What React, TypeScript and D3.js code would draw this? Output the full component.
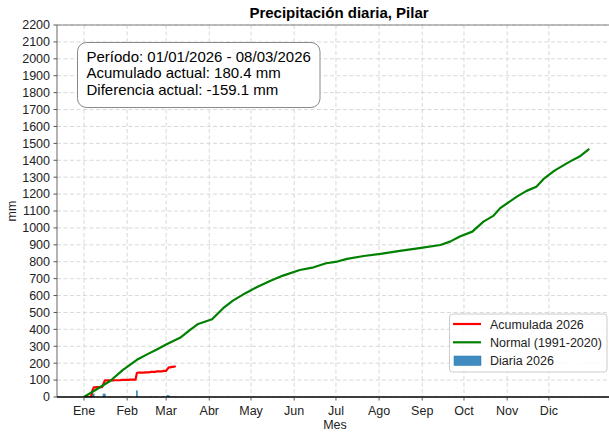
import React from "react";
import * as d3 from "d3";

const monthDays = [0, 31, 59, 90, 120, 151, 181, 212, 243, 273, 304, 334];
const monthLabels = ["Ene", "Feb", "Mar", "Abr", "May", "Jun", "Jul", "Ago", "Sep", "Oct", "Nov", "Dic"];
const yTicks = d3.range(0, 2201, 100);

// Daily precipitation 2026 (day of year index from Jan 1 = 0, mm)
const rainDays = [6, 7, 9, 14, 15, 22, 27, 33, 38, 39, 44, 48, 52, 57, 60, 61, 63, 65];
const rainMm = [38, 19, 1.5, 20, 19.5, 1.0, 2.0, 1.5, 39, 3, 1.5, 2.5, 2.5, 3, 12, 9.5, 2.5, 2.4];
const lastDay = 66; // 08/03/2026

// Normal cumulative (1991-2020)
const normalDays = [0, 10, 19, 28, 38, 46, 52, 59, 66, 69, 76, 82, 92, 100, 107, 116, 124, 134, 143, 155, 165, 174, 182, 189, 201, 213, 227, 241, 256, 263, 270, 279, 287, 294, 299, 311, 318, 325, 330, 338, 349, 356, 363];
const normalMm = [0, 50, 96, 160, 220, 255, 280, 310, 338, 350, 396, 432, 460, 525, 570, 614, 649, 688, 718, 751, 767, 791, 801, 817, 834, 846, 864, 880, 899, 919, 949, 978, 1037, 1071, 1117, 1185, 1219, 1244, 1288, 1339, 1392, 1422, 1467];

const infoLines = [
  "Período: 01/01/2026 - 08/03/2026",
  "Acumulado actual: 180.4 mm",
  "Diferencia actual: -159.1 mm",
];
const legendLabels = ["Acumulada 2026", "Normal (1991-2020)", "Diaria 2026"];

const FONT = "'Liberation Sans', Arial, Helvetica, sans-serif";

export default function App() {
  const W = 609, H = 432;
  const left = 57, right = 621, top = 25, bottom = 397;
  const x = d3.scaleLinear().domain([-19.4, 385.8]).range([left, right]);
  const y = d3.scaleLinear().domain([0, 2200]).range([bottom, top]);

  const daily = d3.range(0, lastDay + 1).map((d) => {
    const i = rainDays.indexOf(d);
    return i >= 0 ? rainMm[i] : 0;
  });
  const cum = Array.from(d3.cumsum(daily));
  const cumPts: [number, number][] = cum.map((v, i) => [i, v]);
  const normPts: [number, number][] = normalDays.map((d, i) => [d, normalMm[i]]);

  const line = d3.line<[number, number]>().x((d) => x(d[0])).y((d) => y(d[1]));
  const barW = x(1.2) - x(0);

  return (
    <svg width={W} height={H} style={{ position: "absolute", left: 0, top: 0, background: "#fff" }} fontFamily={FONT}>
      <defs>
        <clipPath id="plot">
          <rect x={left} y={top} width={right - left} height={bottom - top} />
        </clipPath>
      </defs>
      {/* grid */}
      <g stroke="#d4d4d4" strokeWidth={0.9} strokeDasharray="4,2.5">
        {yTicks.map((t) => (
          <line key={"gy" + t} x1={left} x2={right} y1={y(t)} y2={y(t)} />
        ))}
        {monthDays.map((d) => (
          <line key={"gx" + d} x1={x(d)} x2={x(d)} y1={top} y2={bottom} />
        ))}
      </g>
      <g clipPath="url(#plot)">
        {rainDays.map((d, i) => (
          <rect key={"b" + i} x={x(d) - barW / 2} y={y(rainMm[i])} width={barW} height={y(0) - y(rainMm[i])} fill="#1f77b4" fillOpacity={0.85} />
        ))}
        <path d={line(cumPts) || ""} fill="none" stroke="#ff0000" strokeWidth={2.2} strokeLinejoin="round" />
        <path d={line(normPts) || ""} fill="none" stroke="#008000" strokeWidth={2.2} strokeLinejoin="round" />
      </g>
      {/* spines */}
      <line x1={left} x2={left} y1={top} y2={bottom} stroke="#808080" strokeWidth={1.2} />
      <line x1={left} x2={right} y1={top} y2={top} stroke="#808080" strokeWidth={1.2} />
      <line x1={left} x2={right} y1={bottom} y2={bottom} stroke="#000" strokeWidth={1.4} />
      {/* y ticks */}
      {yTicks.map((t) => (
        <g key={"yt" + t}>
          <line x1={left - 3.5} x2={left} y1={y(t)} y2={y(t)} stroke="#444" strokeWidth={0.9} />
          <text x={left - 7} y={y(t) + 4.4} textAnchor="end" fontSize={12.5} fill="#222">{t}</text>
        </g>
      ))}
      {/* x ticks */}
      {monthDays.map((d, i) => (
        <g key={"xt" + d}>
          <line x1={x(d)} x2={x(d)} y1={bottom} y2={bottom + 3.5} stroke="#444" strokeWidth={0.9} />
          <text x={x(d)} y={415} textAnchor="middle" fontSize={12.5} fill="#222">{monthLabels[i]}</text>
        </g>
      ))}
      <text x={335} y={429} textAnchor="middle" fontSize={12.5} fill="#222">Mes</text>
      <text transform="translate(16,211) rotate(-90)" textAnchor="middle" fontSize={12.5} fill="#222">mm</text>
      <text x={339} y={17.5} textAnchor="middle" fontSize={15} fontWeight="bold" fill="#000">Precipitación diaria, Pilar</text>
      {/* info box */}
      <rect x={77.5} y={42.5} width={242.5} height={65} rx={9} fill="#fff" stroke="#888" strokeWidth={1} />
      {infoLines.map((s, i) => (
        <text key={"il" + i} x={86.5} y={61.5 + i * 16.5} fontSize={15} fill="#000">{s}</text>
      ))}
      {/* legend */}
      <rect x={449.5} y={314} width={157.5} height={58} rx={3} fill="#fff" fillOpacity={0.85} stroke="#cccccc" strokeWidth={1} />
      <line x1={453} x2={481} y1={324} y2={324} stroke="#ff0000" strokeWidth={2.2} />
      <line x1={453} x2={481} y1={342.3} y2={342.3} stroke="#008000" strokeWidth={2.2} />
      <rect x={454} y={356} width={27} height={9.5} fill="#1f77b4" fillOpacity={0.85} stroke="#1f77b4" strokeWidth={0.5} />
      {legendLabels.map((s, i) => (
        <text key={"lg" + i} x={490} y={324 + i * 18.3 + 4.5} fontSize={12.5} fill="#222">{s}</text>
      ))}
    </svg>
  );
}
